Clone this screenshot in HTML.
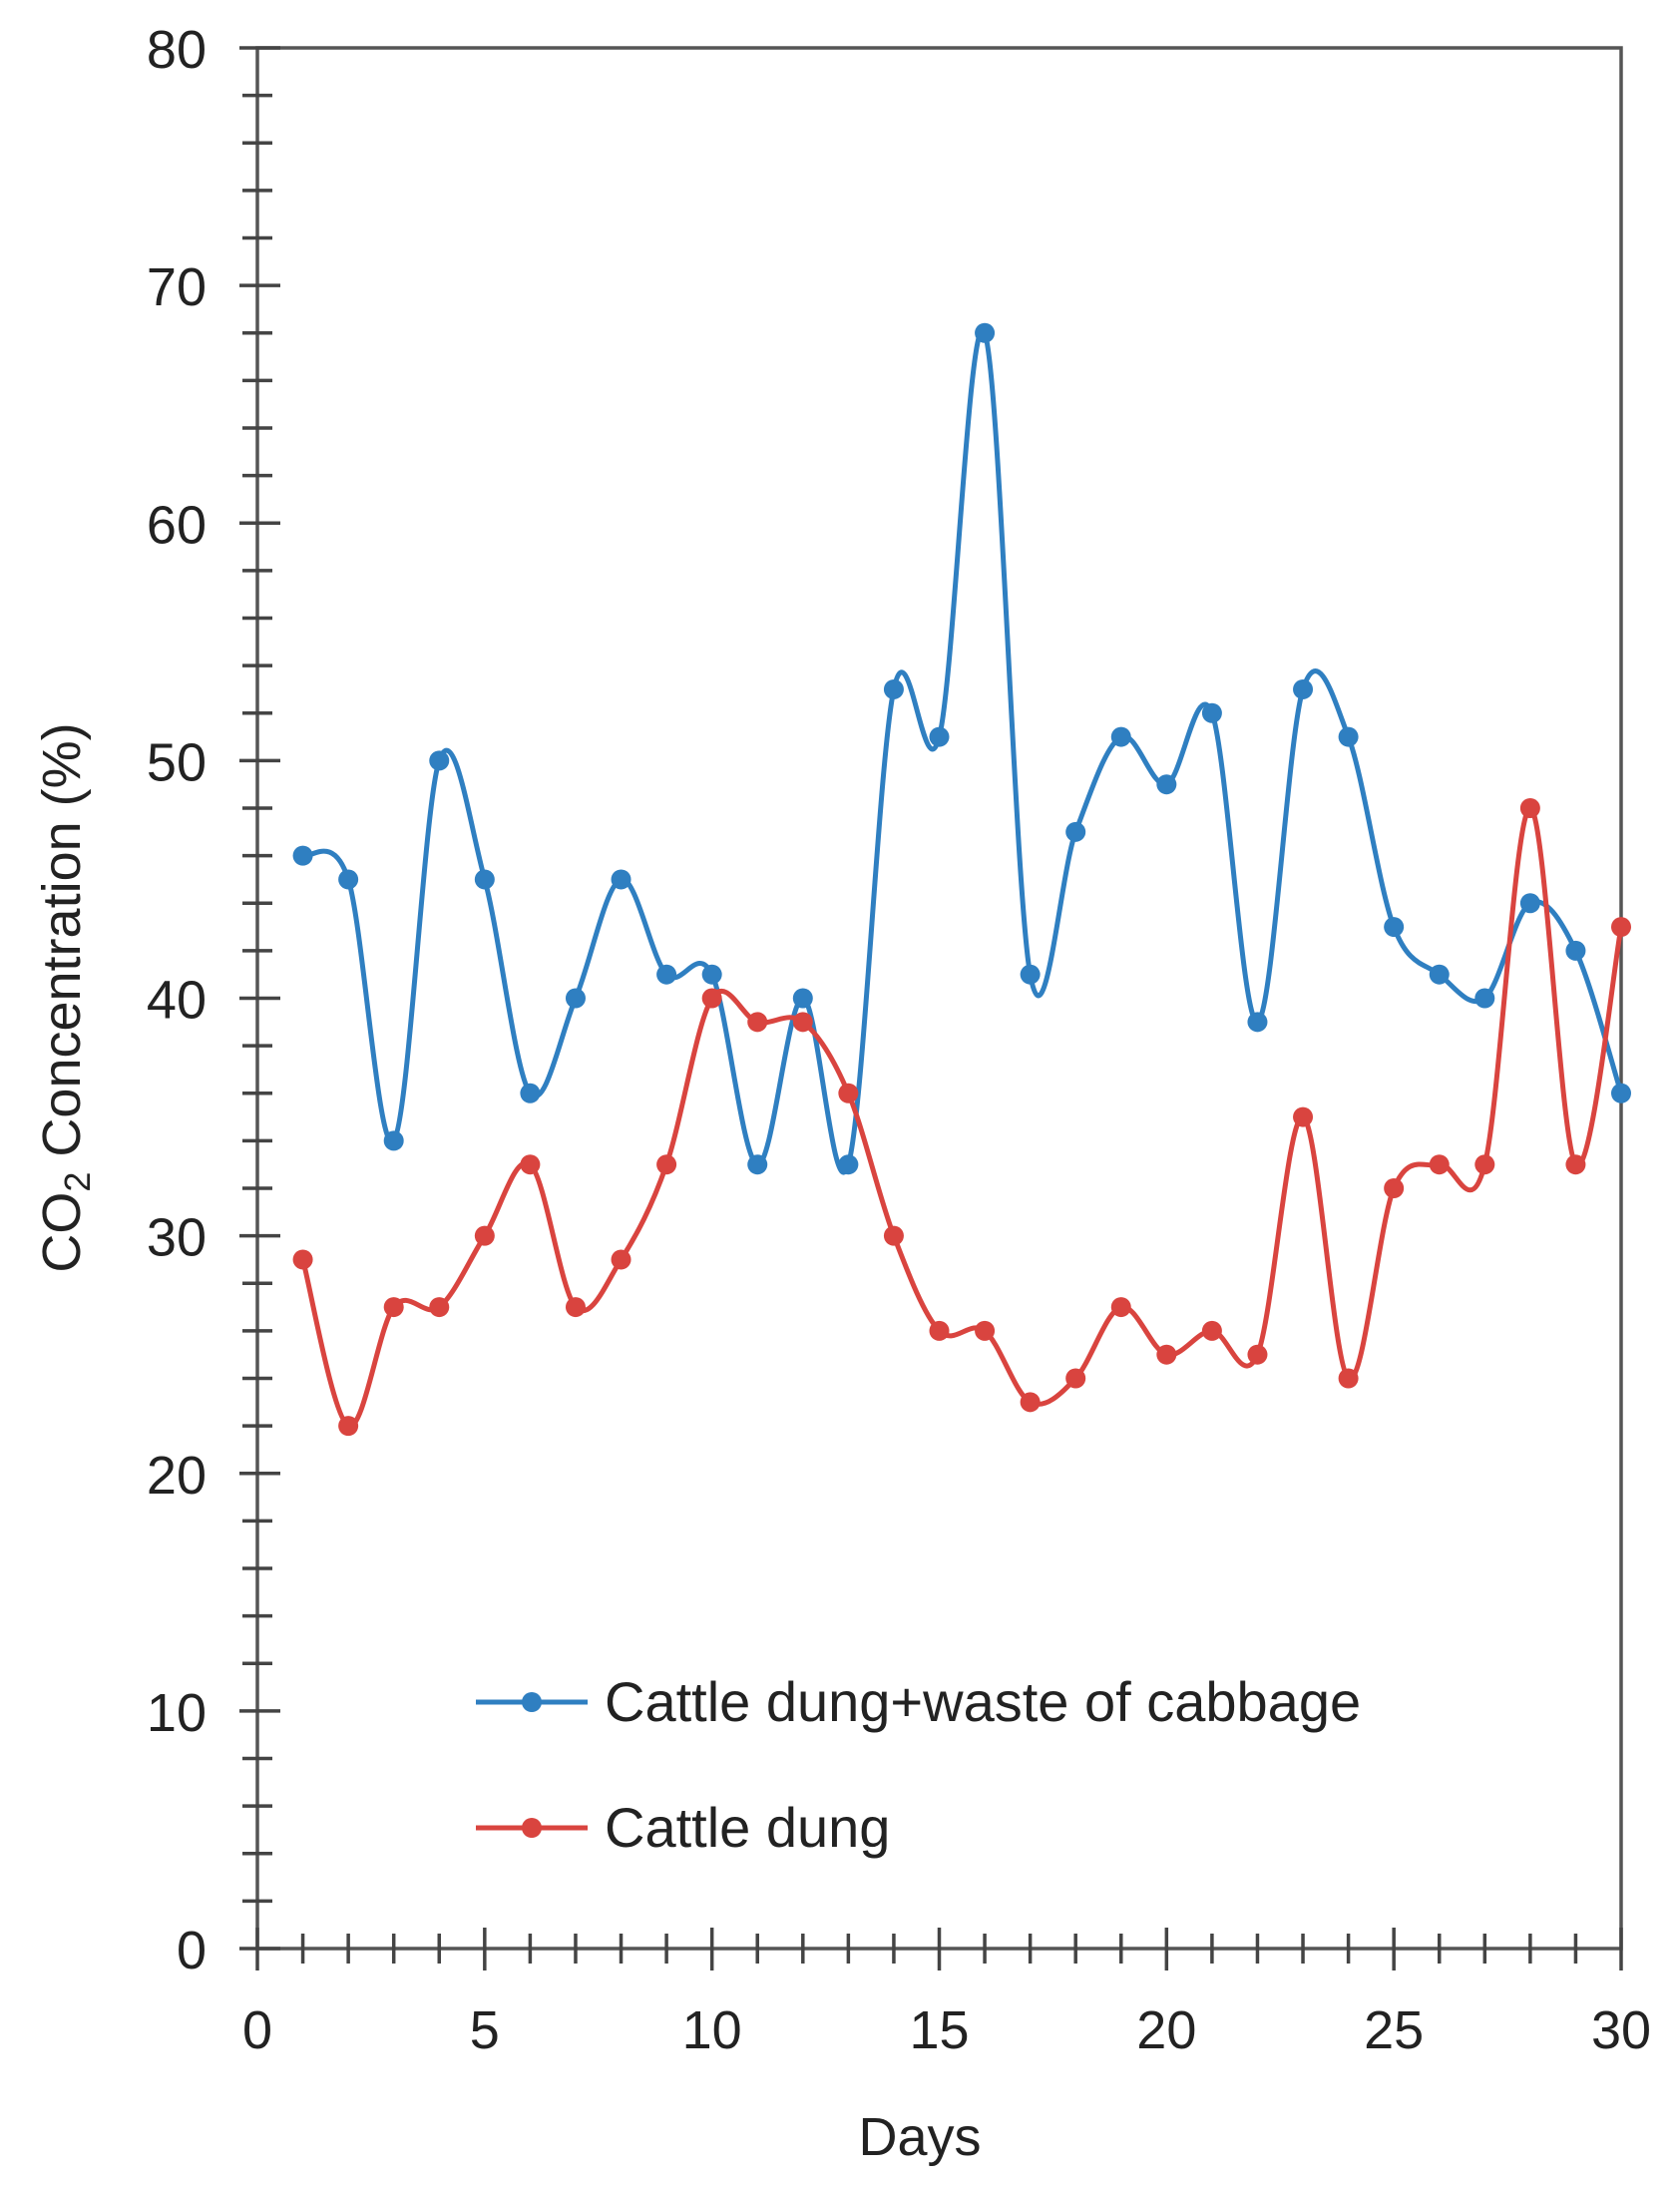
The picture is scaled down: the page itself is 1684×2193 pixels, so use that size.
<!DOCTYPE html>
<html><head><meta charset="utf-8"><style>
html,body{margin:0;padding:0;background:#fff;}
svg{display:block;font-family:"Liberation Sans","DejaVu Sans",sans-serif;}
</style></head><body>
<svg id="chart" width="1684" height="2193" viewBox="0 0 1684 2193" xmlns="http://www.w3.org/2000/svg">
<g id="axes"></g>
<g id="series"></g>
<text x="922" y="2160" font-size="54" text-anchor="middle" fill="#222">Days</text>
<text transform="translate(80,1000) rotate(-90)" font-size="54" text-anchor="middle" fill="#222">CO<tspan font-size="36" dy="10">2</tspan><tspan dy="-10"> Concentration (%)</tspan></text>
<g>
<line x1="477" y1="1706" x2="589" y2="1706" stroke="#2f7fc1" stroke-width="5"/>
<circle cx="533" cy="1706" r="10" fill="#2f7fc1"/>
<text x="606" y="1725" font-size="56" fill="#222">Cattle dung+waste of cabbage</text>
<line x1="477" y1="1832" x2="589" y2="1832" stroke="#d9443f" stroke-width="5"/>
<circle cx="533" cy="1832" r="10" fill="#d9443f"/>
<text x="606" y="1851" font-size="56" fill="#222">Cattle dung</text>
</g>
</svg>
<script>
const days = [1,2,3,4,5,6,7,8,9,10,11,12,13,14,15,16,17,18,19,20,21,22,23,24,25,26,27,28,29,30];
const cabbageValues = [46,45,34,50,45,36,40,45,41,41,33,40,33,53,51,68,41,47,51,49,52,39,53,51,43,41,40,44,42,36];
const dungValues = [29,22,27,27,30,33,27,29,33,40,39,39,36,30,26,26,23,24,27,25,26,25,35,24,32,33,33,48,33,43];
const xTickLabels = [0,5,10,15,20,25,30];
const yTickLabels = [0,10,20,30,40,50,60,70,80];

const X0=258, X1=1625, Y0=1953, Y1=48;
const xs = d => X0 + (d/30)*(X1-X0);
const ys = v => Y0 - (v/80)*(Y0-Y1);
const NS="http://www.w3.org/2000/svg";
const axes=document.getElementById('axes');
const series=document.getElementById('series');
function mk(tag,attrs,parent){const e=document.createElementNS(NS,tag);for(const k in attrs)e.setAttribute(k,attrs[k]);parent.appendChild(e);return e;}

const frame=mk('path',{d:`M${X0},${Y1} H${X1} V${Y0} H${X0} Z`,fill:'none',stroke:'#555','stroke-width':3.5},axes);


for(let v=0;v<=80;v+=2){
  const y=ys(v);const major=v%10===0;
  const t=mk('line',{x1:X0-(major?18:15),x2:X0+(major?23:15),y1:y,y2:y,stroke:'#444','stroke-width':3.5},axes);
  
  
}
yTickLabels.forEach(v=>{
  const t=mk('text',{x:207,y:ys(v)+20,'font-size':54,'text-anchor':'end',fill:'#222'},axes);
  t.textContent=v;
  
  
});
for(let d=0;d<=30;d++){
  const x=xs(d);const major=d%5===0;
  const t=mk('line',{x1:x,x2:x,y1:Y0-(major?21:15),y2:Y0+(major?22:15),stroke:'#444','stroke-width':3.5},axes);
  
  
}
xTickLabels.forEach(d=>{
  const t=mk('text',{x:xs(d),y:2053,'font-size':54,'text-anchor':'middle',fill:'#222'},axes);
  t.textContent=d;
  
  
});

function smooth(pts){
  let d=`M${pts[0][0]},${pts[0][1]}`;
  for(let i=0;i<pts.length-1;i++){
    const p0=pts[i-1]||pts[i],p1=pts[i],p2=pts[i+1],p3=pts[i+2]||p2;
    const c1=[p1[0]+(p2[0]-p0[0])/6,p1[1]+(p2[1]-p0[1])/6];
    const c2=[p2[0]-(p3[0]-p1[0])/6,p2[1]-(p3[1]-p1[1])/6];
    d+=` C${c1[0]},${c1[1]} ${c2[0]},${c2[1]} ${p2[0]},${p2[1]}`;
  }
  return d;
}
function drawSeries(vals,color,name){
  const pts=days.map((d,i)=>[xs(d),ys(vals[i])]);
  const p=mk('path',{d:smooth(pts),fill:'none',stroke:color,'stroke-width':5},series);
  
  
  pts.forEach(pt=>{
    const c=mk('circle',{cx:pt[0],cy:pt[1],r:10,fill:color},series);
    
    
  });
}
drawSeries(cabbageValues,'#2f7fc1','cabbage');
drawSeries(dungValues,'#d9443f','dung');
</script>
</body></html>
